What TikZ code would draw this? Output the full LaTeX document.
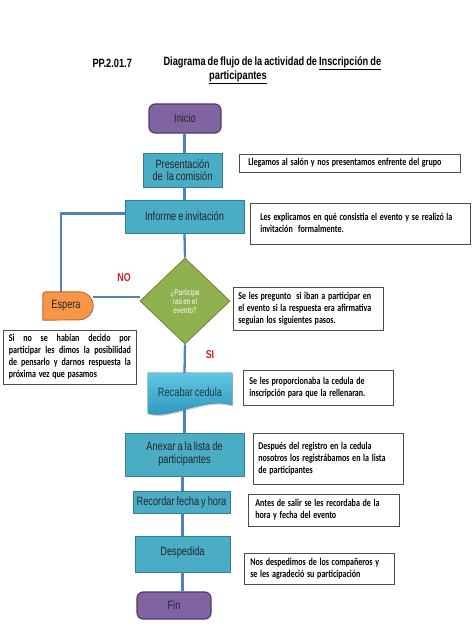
\documentclass[tikz,border=0pt]{standalone}
\usepackage{fontspec}
\usepackage{graphicx}
\setmainfont{Liberation Sans}[FakeStretch=0.77,WordSpace=0.77]
\newfontfamily\notefont{Carlito}
\usetikzlibrary{shapes.geometric,calc,shadows}
\definecolor{tealF}{HTML}{4BACC6}
\definecolor{tealB}{HTML}{357D91}
\definecolor{purpF}{HTML}{8064A2}
\definecolor{purpB}{HTML}{4E3A68}
\definecolor{greenF}{HTML}{8FB14F}
\definecolor{greenB}{HTML}{6E8A3A}
\definecolor{orangeF}{HTML}{F79646}
\definecolor{orangeB}{HTML}{B9682A}
\definecolor{lineB}{HTML}{4F81BD}
\definecolor{docTop}{HTML}{62C6E0}
\definecolor{docBot}{HTML}{2993BA}
\definecolor{lblRed}{HTML}{D02020}
\definecolor{docText}{HTML}{1F3A4A}
\newcommand{\notesize}{\notefont\bfseries\fontsize{10.4}{12}\selectfont}
\newcommand{\nt}[1]{\scalebox{0.77}[1]{\notesize\begin{tabular}{@{}l@{}}#1\end{tabular}}}
\newcommand{\jline}[1]{\hbox to 158.4pt{#1}}
\begin{document}
\begin{tikzpicture}[x=1pt,y=1pt,
  proc/.style={draw=tealB, fill=tealF, line width=0.9pt, font=\fontsize{12}{12.5}\selectfont, align=center, inner sep=1pt, text=black!85},
  term/.style={draw=purpB, fill=purpF, line width=1.1pt, rounded corners=6pt, font=\fontsize{12}{12.5}\selectfont, text=black!85},
  note/.style={draw=black!70, fill=white, line width=0.6pt, anchor=north west, align=left, inner sep=0pt, font=\notesize, text=black},
  conn/.style={draw=lineB, line width=2.3pt},
  lbl/.style={text=lblRed, font=\bfseries\fontsize{11.5}{12}\selectfont},
  ttl/.style={font=\bfseries\fontsize{12}{12.5}\selectfont, anchor=west}]
\useasboundingbox (0,0) rectangle (474,-632);
\fill[white] (0,0) rectangle (474,-632);

% title
\node[ttl] (t1) at (89,-63) {PP.2.01.7};
\node[ttl] (t2) at (160,-63) {Diagrama de flujo de la actividad de \underline{Inscripción de}};
\node[ttl, anchor=center] (t3) at (238,-77) {\underline{participantes}};

\coordinate (sp) at (184.5,0);

% main nodes
\node[term, minimum width=72pt, minimum height=29pt] (ini) at (185,-118.5) {Inicio};
\node[proc, minimum width=79pt, minimum height=34pt] (pre) at (182.5,-170) {Presentación\\de\ \ la comisión};
\node[proc, minimum width=119pt, minimum height=33pt] (inf) at (184.5,-216.5) {Informe e invitación};
\node[diamond, draw=greenB, fill=greenF, line width=0.9pt, minimum width=90pt, minimum height=86pt, inner sep=0pt, align=center, text=white, font=\fontsize{8.4}{9}\selectfont] (dia) at (185,-301) {¿Participa\\ras en el\\evento?};
\node[minimum width=50pt, minimum height=28pt, inner sep=0pt] (esp) at (68,-306) {};
\node[minimum width=84pt, minimum height=40pt, inner sep=0pt] (rec) at (190,-393) {};
\node[proc, minimum width=119pt, minimum height=43pt] (anx) at (184.5,-454.5) {\raisebox{3pt}{\shortstack{Anexar a la lista de\\[1pt]participantes}}};
\node[proc, minimum width=97pt, minimum height=22pt] (rcd) at (181.5,-502) {Recordar fecha y hora};
\node[proc, minimum width=95pt, minimum height=36pt] (des) at (182.5,-554) {\raisebox{5pt}{Despedida}};
\node[term, minimum width=74pt, minimum height=27pt] (fin) at (174,-605.5) {Fin};

% connectors
\draw[conn] (sp |- ini.south) -- (sp |- pre.north);
\draw[conn] (sp |- pre.south) -- (sp |- inf.north);
\draw[conn] (sp |- inf.south) -- (dia.north);
\draw[conn] (dia.south) -- (sp |- rec.north);
\draw[conn] ($(sp |- rec.south)+(0,4)$) -- (sp |- anx.north);
\draw[conn] (182.5,0 |- anx.south) -- (182.5,0 |- rcd.north);
\draw[conn] (182.5,0 |- rcd.south) -- (182.5,0 |- des.north);
\draw[conn] (182.5,0 |- des.south) -- (182.5,0 |- fin.north);
\coordinate (lx) at (61,0);
\draw[conn] ([yshift=3pt]inf.west) -| (lx |- esp.north);
\draw[conn] ([yshift=4pt]dia.west) -- ([yshift=4pt]dia.west -| esp.east);

% Espera delay shape
\draw[draw=orangeB, fill=orangeF, line width=0.9pt]
  ([xshift=-14pt]esp.north east) arc (90:-90:14pt) -- (esp.south west) [rounded corners=3pt] -- (esp.north west) [sharp corners] -- cycle;
\node[font=\fontsize{12}{12.5}\selectfont, text=black!85] (espt) at ([xshift=-2pt]esp.center) {Espera};

% Recabar document shape
\path[drop shadow={opacity=0.35, shadow xshift=1pt, shadow yshift=-1.5pt}, top color=docTop, bottom color=docBot, draw=docBot!80!black, line width=0.3pt]
  (rec.north west) -- (rec.north east) -- ([yshift=8pt]rec.south east)
  .. controls +(-27,9) and +(22,-7) .. (rec.south west) -- cycle;
\node[font=\fontsize{12}{12.5}\selectfont, text=docText] (rect) at ([yshift=1pt]rec.center) {Recabar cedula};

% labels
\node[lbl] (no) at (124,-278) {NO};
\node[lbl] (si) at (210,-355) {SI};

% notes
\node[note, minimum width=221pt, minimum height=18pt, text width=203pt] (n1) at (239,-154) {\nt{Llegamos al salón y nos presentamos enfrente del grupo}};
\node[note, minimum width=220pt, minimum height=41pt, text width=200pt] (n2) at (250,-203) {\nt{Les explicamos en qué consistia el evento y se realizó la\\invitación\ \ formalmente.}};
\node[note, minimum width=150pt, minimum height=43pt, text width=140pt] (n3) at (233,-287) {\nt{Se les pregunto\ \ si iban a participar en\\el evento si la respuesta era afirmativa\\seguian los siguientes pasos.}};
\node[note, minimum width=133pt, minimum height=54pt, text width=122pt] (n0) at (3,-330) {\nt{\jline{Si\hfill no\hfill se\hfill habian\hfill decido\hfill por}\\\jline{participar\hfill les\hfill dimos\hfill la\hfill posibilidad}\\\jline{de\hfill pensarlo\hfill y\hfill darnos\hfill respuesta\hfill la}\\próxima vez que pasamos}};
\node[note, minimum width=150pt, minimum height=35pt, text width=138pt] (n4) at (243,-370) {\nt{Se les proporcionaba la cedula de\\inscripción para que la rellenaran.}};
\node[note, minimum width=150pt, minimum height=51pt, text width=140pt] (n5) at (253,-433) {\nt{Después del registro en la cedula\\nosotros los registrábamos en la lista\\de participantes}};
\node[note, minimum width=151pt, minimum height=32pt, text width=137pt] (n6) at (248,-494) {\nt{Antes de salir se les recordaba de la\\hora y fecha del evento}};
\node[note, minimum width=150pt, minimum height=31pt, text width=138pt] (n7) at (244,-553) {\nt{Nos despedimos de los compañeros y\\se les agradeció su participación}};
\end{tikzpicture}
\end{document}
